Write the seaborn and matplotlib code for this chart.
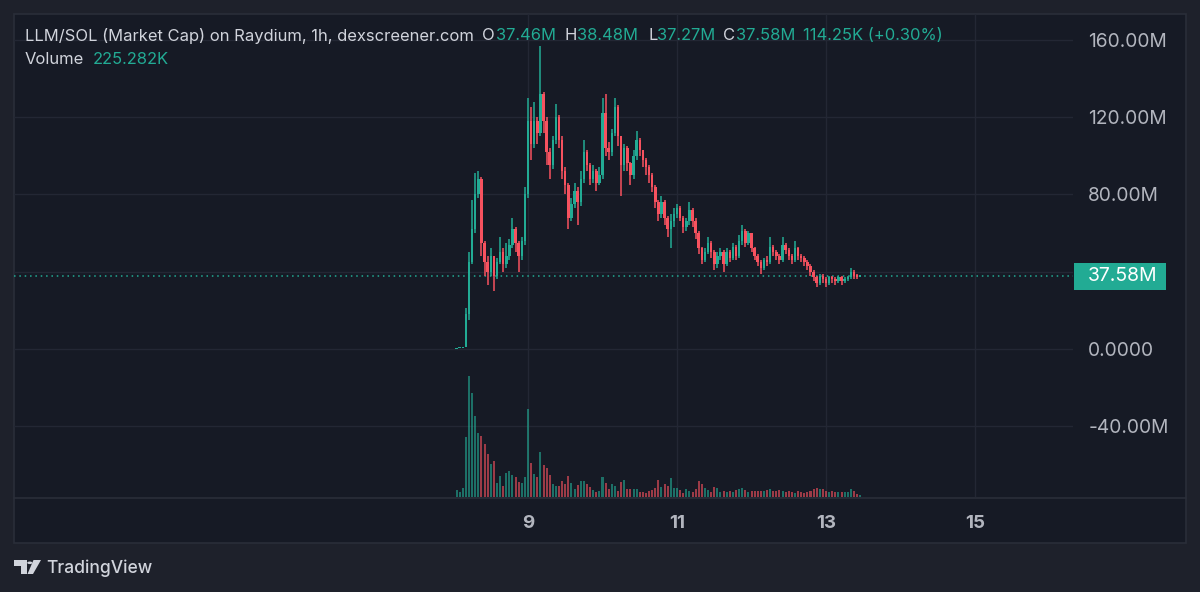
import numpy as np
import pandas as pd
import matplotlib
matplotlib.use("Agg")
import matplotlib.pyplot as plt
import seaborn as sns
from matplotlib.patches import Rectangle, Polygon, Circle
from matplotlib.lines import Line2D
from matplotlib import transforms

# ---------------- data (market cap in millions, hourly candles) ----------------
hour_offsets = list(range(-23, 108))   # hours relative to day 9, 00:00

opens = [
    0.1, 0.3, 0.5, 0.8, 18, 45, 62, 80, 88, 55,
    45, 40, 48, 38, 45, 50, 44, 48, 54, 62,
    55, 48, 56, 80, 118, 106, 118, 112, 132, 118,
    102, 95, 108, 120, 108, 92, 85, 68, 75, 82,
    76, 88, 102, 95, 88, 92, 86, 90, 122, 104,
    102, 112, 125, 110, 95, 104, 96, 90, 100, 108,
    103, 98, 94, 90, 84, 76, 70, 76, 68, 62,
    66, 70, 73, 68, 63, 66, 72, 66, 60, 52,
    46, 50, 55, 50, 44, 48, 50, 44, 50, 47,
    53, 48, 56, 61, 55, 60, 52, 48, 45, 42,
    46, 45, 53, 50, 48, 46, 54, 51, 48, 46,
    52, 48, 47, 45, 43, 40, 37, 34, 38, 36,
    34, 37, 36, 35, 37, 35, 36, 37, 40, 38,
    37.46]

closes = [
    0.3, 0.5, 0.8, 18, 45, 62, 80, 88, 55, 45,
    40, 48, 38, 45, 50, 44, 48, 54, 62, 55,
    48, 56, 80, 118, 106, 118, 112, 132, 118, 102,
    95, 108, 120, 108, 92, 85, 68, 75, 82, 76,
    88, 102, 95, 88, 92, 86, 90, 122, 104, 102,
    112, 125, 110, 95, 104, 96, 90, 100, 108, 103,
    98, 94, 90, 84, 76, 70, 76, 68, 62, 66,
    70, 73, 68, 63, 66, 72, 66, 60, 52, 46,
    50, 55, 50, 44, 48, 50, 44, 50, 47, 53,
    48, 56, 61, 55, 60, 52, 48, 45, 42, 46,
    45, 53, 50, 48, 46, 54, 51, 48, 46, 52,
    48, 47, 45, 43, 40, 37, 34, 38, 36, 34,
    37, 36, 35, 37, 35, 36, 37, 40, 38, 37.46,
    37.58]

highs = [
    0.4, 0.6, 1.0, 21, 50, 77, 91, 92, 89, 56,
    48, 52, 48, 47, 58, 52, 55, 57, 68, 63,
    56, 58, 84, 130, 125, 128, 120, 157, 133, 120,
    104, 110, 127, 121, 110, 94, 86, 78, 86, 84,
    92, 108, 103, 96, 95, 93, 94, 130, 132, 107,
    114, 130, 126, 110, 106, 105, 97, 103, 113, 109,
    103, 99, 95, 91, 85, 77, 79, 77, 69, 70,
    73, 75, 74, 69, 68, 76, 73, 68, 61, 53,
    52, 58, 56, 51, 50, 52, 51, 52, 51, 55,
    54, 59, 64, 62, 61, 60, 53, 49, 46, 47,
    48, 58, 54, 51, 49, 58, 55, 52, 49, 56,
    53, 49, 48, 46, 44, 41, 38, 39, 39, 37,
    38, 38, 37, 38, 38, 37, 38, 42, 41, 39,
    38.48]

lows = [
    0.1, 0.3, 0.5, 1, 15, 44, 60, 78, 48, 38,
    33, 38, 30, 36, 44, 40, 42, 46, 52, 50,
    40, 46, 54, 78, 98, 104, 106, 110, 112, 95,
    88, 93, 106, 104, 88, 80, 62, 66, 73, 64,
    74, 86, 92, 85, 86, 82, 85, 88, 100, 98,
    100, 110, 105, 79, 92, 92, 85, 88, 98, 100,
    94, 90, 86, 81, 73, 66, 68, 64, 58, 52,
    63, 68, 66, 60, 61, 64, 63, 57, 49, 44,
    45, 49, 47, 41, 42, 46, 40, 43, 45, 46,
    46, 47, 54, 53, 54, 50, 46, 43, 39, 41,
    43, 44, 48, 46, 44, 45, 49, 46, 44, 45,
    46, 45, 43, 41, 38, 35, 32, 33, 34, 32,
    33, 34, 33, 34, 33, 34, 35, 36, 36, 36,
    37.27]

volumes_k = [
    700, 500, 900, 6000, 12100, 10400, 8100, 6400, 6100, 5300,
    4300, 3300, 3600, 1400, 2100, 1100, 2400, 2600, 2200, 2000,
    1500, 1400, 2000, 8800, 3400, 2300, 2000, 4500, 3200, 2900,
    2200, 1300, 1100, 1100, 1600, 1300, 2100, 1400, 800, 1200,
    1600, 1600, 1300, 1000, 700, 500, 600, 2000, 1400, 800,
    1300, 1100, 600, 1500, 1700, 800, 800, 800, 800, 500,
    500, 400, 600, 700, 900, 1700, 1000, 1300, 1100, 1900,
    900, 900, 700, 400, 800, 600, 500, 800, 1600, 1300,
    900, 700, 500, 1000, 900, 500, 600, 500, 600, 500,
    700, 800, 900, 700, 500, 600, 600, 600, 600, 600,
    700, 800, 600, 600, 700, 600, 500, 600, 500, 400,
    600, 500, 400, 500, 600, 800, 900, 800, 800, 600,
    500, 600, 500, 500, 500, 500, 500, 800, 600, 300,
    225.282]

price_ticks = [-40, 0, 40, 80, 120, 160]
price_labels = ["-40.00M", "0.0000", "", "80.00M", "120.00M", "160.00M"]
day_ticks = [9, 11, 13, 15]
day_labels = ["9", "11", "13", "15"]
last_price = 37.58

# ---------------- styling ----------------
OUTER = "#1e212b"
PANEL = "#161a25"
BORDER = "#2a2e39"
GRID = "#232734"
UP = "#22ab94"
DOWN = "#f7525f"
TEXT = "#d1d4dc"
AXTXT = "#b2b5be"

sns.set_theme(style="dark")
plt.rcParams["font.family"] = ["Inter", "DejaVu Sans"]

W, H = 1200, 592
fig = plt.figure(figsize=(12, 5.92), dpi=100, facecolor=OUTER)


def fx(px):
    return px / W


def fy(py):
    return 1 - py / H


# panel background and frame
fig.add_artist(Rectangle((fx(14), fy(543)), (1186 - 14) / W, (543 - 14) / H,
                         transform=fig.transFigure, fc=PANEL, ec=BORDER, lw=1.2, zorder=0))
fig.add_artist(Line2D([fx(14), fx(1186)], [fy(497.5), fy(497.5)],
                      transform=fig.transFigure, color=BORDER, lw=1.2, zorder=1))

rect = [fx(14), fy(497), (1073 - 14) / W, (497 - 14) / H]
axv = fig.add_axes(rect, zorder=1)
ax = fig.add_axes(rect, zorder=2)
for a in (ax, axv):
    a.set_facecolor("none")
    a.patch.set_visible(False)
    for s in a.spines.values():
        s.set_visible(False)

df = pd.DataFrame({
    "hour": hour_offsets,
    "open": opens, "high": highs, "low": lows, "close": closes,
    "volume": volumes_k,
})
df["t"] = 9 + df["hour"] / 24.0
df["dir"] = np.where(df["close"] >= df["open"], "up", "down")

XMIN, XMAX = 2.101, 16.315
YMIN, YMAX = -76.56, 173.31
VMAX = 48300

# ---- grid (drawn on the back axes, in price units mapped to the volume axes) ----
price_to_v = transforms.blended_transform_factory(axv.transData, ax.transData)
for yv in price_ticks:
    axv.add_line(Line2D([XMIN, XMAX], [yv, yv], transform=price_to_v,
                        color=GRID, lw=1, zorder=0))
for xv in day_ticks:
    axv.axvline(xv, color=GRID, lw=1, zorder=0)

# ---- volume (seaborn histplot with weights, one bin per candle) ----
hw = 0.5 / 24
sns.histplot(data=df, x="t", weights="volume", hue="dir",
             binwidth=1 / 24,
             binrange=(float(df["t"].iloc[0] - hw), float(df["t"].iloc[-1] + hw)),
             palette={"up": UP, "down": DOWN}, hue_order=["up", "down"],
             multiple="layer", shrink=0.65, alpha=0.6, linewidth=0,
             legend=False, ax=axv, zorder=2)
axv.set_ylim(0, VMAX)
axv.set_xlim(XMIN, XMAX)
axv.set_xlabel("")
axv.set_ylabel("")
axv.set_xticks([])
axv.set_yticks([])

# ---- candles ----
colors = np.where(df["dir"] == "up", UP, DOWN)
body_lo = np.minimum(df["open"], df["close"])
body_hi = np.maximum(df["open"], df["close"])
wick_lo = np.minimum(df["low"], body_lo)
wick_hi = np.maximum(df["high"], body_hi)
ax.vlines(df["t"], wick_lo, wick_hi, colors=colors, lw=1.1, zorder=3)
ax.bar(df["t"], np.maximum(body_hi - body_lo, 0.6), bottom=body_lo,
       width=0.8 / 24, color=colors, linewidth=0, zorder=4)

# ---- last price line and label ----
ax.axhline(last_price, color=UP, lw=1.1, linestyle=(0, (1, 2.5)), zorder=2)
blend = transforms.blended_transform_factory(fig.transFigure, ax.transData)
box_h = 27 / 1.933
ax.add_patch(Rectangle((fx(1074), last_price - box_h / 2), 92 / W, box_h,
                       transform=blend, fc=UP, ec="none", clip_on=False, zorder=10))

ax.set_xlim(XMIN, XMAX)
ax.set_ylim(YMIN, YMAX)

ax.yaxis.tick_right()
ax.set_yticks(price_ticks)
ax.set_yticklabels(price_labels)
ax.tick_params(axis="y", length=0, pad=11, labelsize=13.8, labelcolor=AXTXT)
ax.set_xticks(day_ticks)
ax.set_xticklabels(day_labels, fontweight="bold")
ax.tick_params(axis="x", length=0, pad=13, labelsize=13.5, labelcolor=AXTXT)
ax.grid(False)

ax.text(fx(1088), last_price, "37.58M", transform=blend, color="white",
        fontsize=14, ha="left", va="center", zorder=11)

# ---------------- header texts ----------------
renderer = fig.canvas.get_renderer()
title = fig.text(fx(25), fy(36), "LLM/SOL (Market Cap) on Raydium, 1h, dexscreener.com",
                 color=TEXT, fontsize=12, ha="left", va="center")
w = title.get_window_extent(renderer).width
fs = 12 * 449 / w
title.set_fontsize(fs)

pieces = [
    (482, "O", TEXT), (496, "37.46M", UP),
    (565, "H", TEXT), (577, "38.48M", UP),
    (648, "L", TEXT), (657, "37.27M", UP),
    (723, "C", TEXT), (736, "37.58M", UP),
    (803, "114.25K (+0.30%)", UP),
]
for px, s, c in pieces:
    fig.text(fx(px), fy(36), s, color=c, fontsize=fs, ha="left", va="center")

fig.text(fx(25), fy(60), "Volume", color=TEXT, fontsize=fs, ha="left", va="center")
fig.text(fx(93), fy(60), "225.282K", color=UP, fontsize=fs, ha="left", va="center")

# ---------------- TradingView logo ----------------
LOGO = "#d1d4dc"
fig.add_artist(Polygon([(fx(14), fy(560)), (fx(27), fy(560)), (fx(27), fy(574)),
                        (fx(21), fy(574)), (fx(21), fy(565.5)), (fx(14), fy(565.5))],
                       closed=True, transform=fig.transFigure, fc=LOGO, ec="none"))
fig.add_artist(Circle((fx(29.8), fy(562.8)), 2.6 / W, transform=fig.transFigure,
                      fc=LOGO, ec="none"))
fig.add_artist(Polygon([(fx(33.5), fy(560)), (fx(41), fy(560)), (fx(33), fy(574)),
                        (fx(27.5), fy(574))],
                       closed=True, transform=fig.transFigure, fc=LOGO, ec="none"))
tv = fig.text(fx(46), fy(568), "TradingView", color=LOGO, fontsize=14,
              ha="left", va="center", fontweight="medium")
w2 = tv.get_window_extent(renderer).width
tv.set_fontsize(14 * 106 / w2)

fig.savefig("out.png", dpi=100, facecolor=OUTER)
